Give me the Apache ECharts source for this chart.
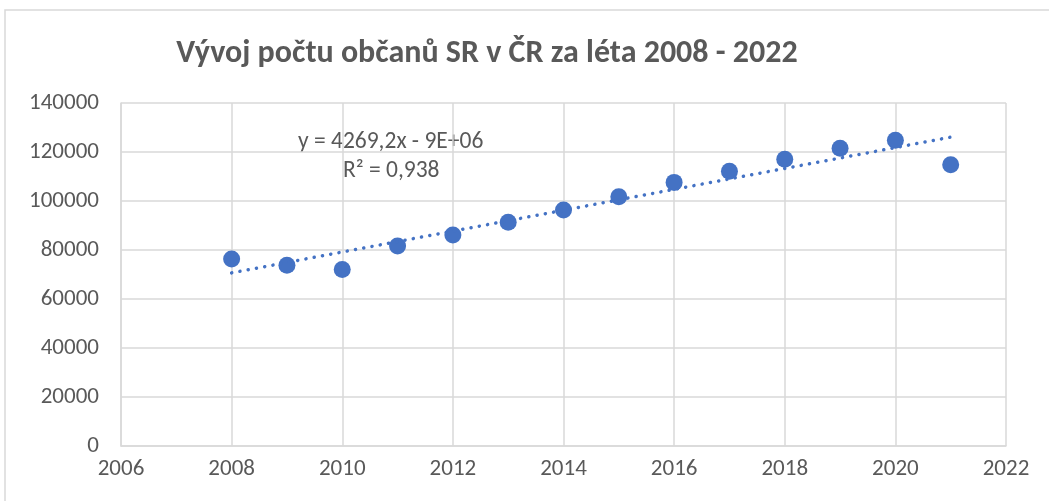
<!DOCTYPE html>
<html lang="cs">
<head>
    <meta charset="UTF-8">
    <title>Vývoj počtu občanů SR v ČR</title>
    <script src="https://cdn.jsdelivr.net/npm/echarts@6/dist/echarts.min.js"></script>
    <style>
        html, body { margin: 0; padding: 0; background: #fff; }
        #main { width: 1049px; height: 501px; }
    </style>
</head>
<body>
    <div id="main"></div>
<script>
    // roky a počty občanů
    const years = [2008, 2009, 2010, 2011, 2012, 2013, 2014, 2015, 2016, 2017, 2018, 2019, 2020, 2021];
    const citizens = [76300, 73800, 72000, 81600, 86100, 91300, 96300, 101700, 107600, 112100, 117000, 121500, 124800, 114800];
    const titleText = 'Vývoj počtu občanů SR v ČR za léta 2008 - 2022';
    const equationText = 'y = 4269,2x - 9E+06';
    const r2Text = 'R² = 0,938';

    const FONT = 'Carlito, "Liberation Sans Narrow", "Open Sans", sans-serif';
    const GREY = '#595959';
    const BLUE = '#4472C4';

    // lineární trend (nejmenší čtverce)
    let n = years.length, sx = 0, sy = 0, sxy = 0, sxx = 0;
    for (let i = 0; i < n; i++) {
        sx += years[i]; sy += citizens[i];
        sxy += years[i] * citizens[i]; sxx += years[i] * years[i];
    }
    const slope = (n * sxy - sx * sy) / (n * sxx - sx * sx);
    const intercept = (sy - slope * sx) / n;
    const first = years[0], last = years[n - 1];
    const trend = [[first, slope * first + intercept], [last, slope * last + intercept]];

    const chart = echarts.init(document.getElementById('main'));
    chart.setOption({
        animation: false,
        title: {
            text: titleText,
            left: 482,
            top: 33,
            textAlign: 'center',
            textStyle: { fontFamily: FONT, fontSize: 32, fontWeight: 'bold', color: GREY }
        },
        grid: { left: 121, top: 103, right: 43, bottom: 55 },
        xAxis: {
            type: 'value',
            min: 2006, max: 2022, interval: 2,
            axisLine: { show: true, lineStyle: { color: '#d9d9d9', width: 1.5 } },
            axisTick: { show: false },
            splitLine: { show: true, lineStyle: { color: '#d9d9d9', width: 1.5 } },
            axisLabel: { color: GREY, fontFamily: FONT, fontSize: 23, margin: 12, formatter: v => String(v) }
        },
        yAxis: {
            type: 'value',
            min: 0, max: 140000, interval: 20000,
            axisLine: { show: true, lineStyle: { color: '#d9d9d9', width: 1.5 } },
            axisTick: { show: false },
            splitLine: { show: true, lineStyle: { color: '#d9d9d9', width: 1.5 } },
            axisLabel: { color: GREY, fontFamily: FONT, fontSize: 23, margin: 22, formatter: v => String(v) }
        },
        graphic: [
            {
                type: 'rect', silent: true,
                shape: { x: 5, y: 10, width: 1100, height: 600 },
                style: { fill: 'none', stroke: '#d9d9d9', lineWidth: 1.5 }
            },
            {
                type: 'text', left: 298, top: 130, silent: true,
                style: { text: equationText, fill: GREY, font: '23.5px ' + FONT }
            },
            {
                type: 'text', left: 343, top: 159, silent: true,
                style: { text: r2Text, fill: GREY, font: '23.5px ' + FONT }
            }
        ],
        series: [
            {
                type: 'line',
                data: trend,
                symbol: 'none',
                z: 3,
                lineStyle: { color: BLUE, width: 3.5, type: [0.1, 8.3], cap: 'round' }
            },
            {
                type: 'scatter',
                data: years.map((y, i) => [y, citizens[i]]),
                symbolSize: 17,
                z: 2,
                itemStyle: { color: BLUE, opacity: 1 }
            }
        ]
    });
</script>
</body>
</html>
